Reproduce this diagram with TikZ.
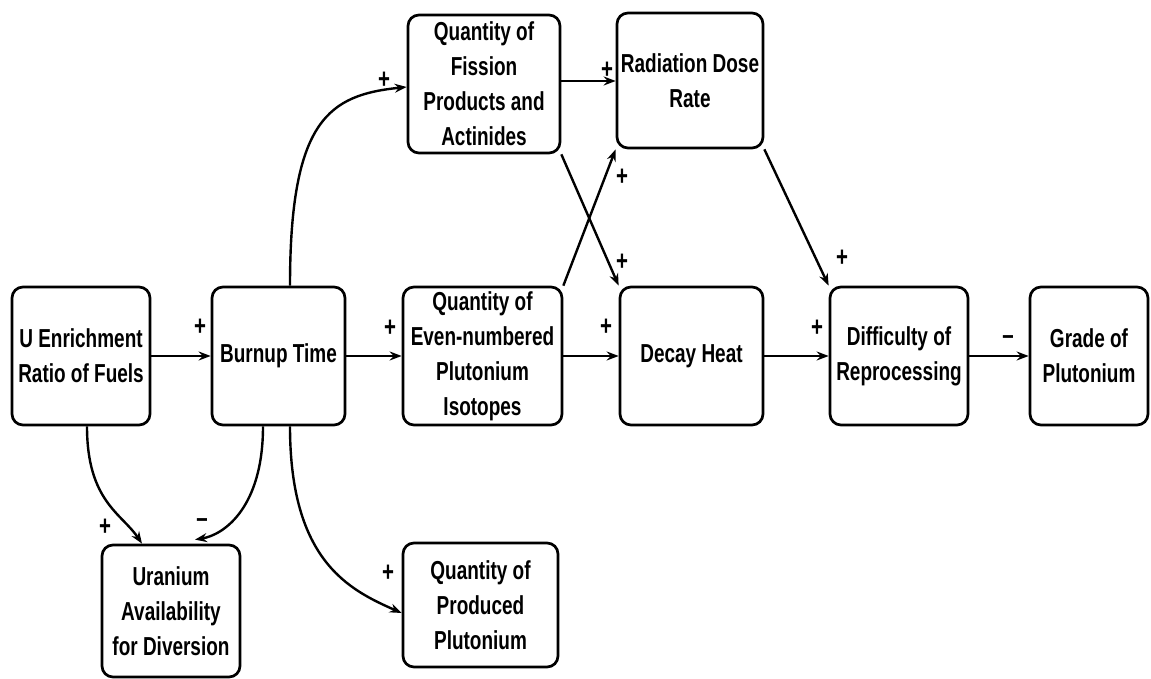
\documentclass[tikz,border=0pt]{standalone}
\usepackage{fontspec}
\setmainfont{Liberation Sans}[FakeStretch=0.73]
\usetikzlibrary{arrows.meta}
\begin{document}
\begin{tikzpicture}[x=1pt,y=1pt,
  box/.style={draw, line width=2.7pt, rounded corners=11pt, align=center,
    inner sep=0pt, font=\fontsize{26}{35}\selectfont\bfseries},
  link/.style={line width=2.4pt, -{Stealth[length=12pt,width=9pt,inset=4pt]}},
  sign/.style={font=\fontsize{28}{28}\selectfont\bfseries, inner sep=0pt}]
\useasboundingbox (0,0) rectangle (1151,679);

% boxes of the main chain
\node[box, minimum width=138pt, minimum height=138pt] (U) at (81,323) {U Enrichment\\Ratio of Fuels};
\node[box, minimum width=133pt, minimum height=138pt] (burn) at (278.5,323) {Burnup Time};
\node[box, minimum width=159pt, minimum height=138pt] (even) at (482.5,323) {Quantity of\\Even-numbered\\Plutonium\\Isotopes};
\node[box, minimum width=143pt, minimum height=138pt] (decay) at (691.5,323) {Decay Heat};
\node[box, minimum width=138pt, minimum height=138pt] (diff) at (899,323) {Difficulty of\\Reprocessing};
\node[box, minimum width=118pt, minimum height=138pt] (grade) at (1089,323) {Grade of\\Plutonium};

% upper row
\node[box, minimum width=152pt, minimum height=138pt] (fis) at (484,595) {Quantity of\\Fission\\Products and\\Actinides};
\node[box, minimum width=146pt, minimum height=135pt] (rad) at (690,598.5) {Radiation Dose\\Rate};

% lower row
\node[box, minimum width=138pt, minimum height=132pt] (uav) at (171,68) {Uranium\\Availability\\for Diversion};
\node[box, minimum width=155pt, minimum height=124pt] (prod) at (480.5,74) {Quantity of\\Produced\\Plutonium};

% straight links
\draw[link] (U.east) -- (burn.west);
\draw[link] (burn.east) -- (even.west);
\draw[link] (even.east) -- (decay.west);
\draw[link] (decay.east) -- (diff.west);
\draw[link] (diff.east) -- (grade.west);
\draw[link] ([yshift=3pt]fis.east) -- ([yshift=3pt]fis.east -| rad.west);
\draw[link] (fis.south east) -- (decay.north west);
\draw[link] (even.north east) -- (rad.south west);
\draw[link] (rad.south east) -- (diff.north west);

% curved links
\draw[link] ([xshift=11.5pt]burn.north) .. controls +(0,167) and +(-77,-8) .. ([yshift=-3pt]fis.west);
\draw[link] ([xshift=6pt]U.south) .. controls +(0,-75) and +(-20,30) .. ([xshift=-29pt]uav.north);
\draw[link] ([xshift=-15.5pt]burn.south) .. controls +(0,-80) and +(30,5) .. ([xshift=24pt,yshift=4pt]uav.north);
\draw[link] ([xshift=11.5pt]burn.south) .. controls +(0,-135) and +(-52,23) .. ([yshift=-8pt]prod.west);

% polarity signs
\node[sign] (s1) at (200,352) {+};
\node[sign] (s2) at (390,351) {+};
\node[sign] (s3) at (606,352) {+};
\node[sign] (s4) at (817,351) {+};
\node[sign] (s5) at (1008,339) {--};
\node[sign] (s6) at (384,599) {+};
\node[sign] (s7) at (607,609) {+};
\node[sign] (s8) at (622,417) {+};
\node[sign] (s9) at (622,502) {+};
\node[sign] (s10) at (842,421) {+};
\node[sign] (s11) at (105,152) {+};
\node[sign] (s12) at (202,156) {--};
\node[sign] (s13) at (388,106) {+};
\end{tikzpicture}
\end{document}
